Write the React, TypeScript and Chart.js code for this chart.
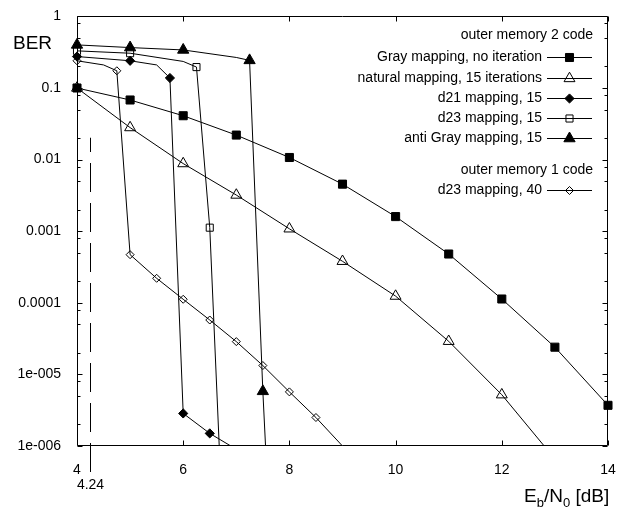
import React, { useEffect, useRef } from 'react';
import { Chart, registerables } from 'chart.js';
import { drawPoint } from 'chart.js/helpers';

Chart.register(...registerables);

const FONT = '"Liberation Sans", Arial, Helvetica, sans-serif';

// ---------- data ----------
const grayX = [4, 5, 6, 7, 8, 9, 10, 11, 12, 13, 14];
const grayY = [0.1, 0.068, 0.041, 0.022, 0.0107, 0.00454, 0.0016, 0.00048, 0.000113, 0.000024, 0.0000037];
const grayMarked = [1, 1, 1, 1, 1, 1, 1, 1, 1, 1, 1];

const naturalX = [4, 5, 6, 7, 8, 9, 10, 11, 12, 13];
const naturalY = [0.1, 0.028, 0.0088, 0.0032, 0.00108, 0.00038, 0.000124, 0.000029, 0.0000052, 0.00000066];
const naturalMarked = [1, 1, 1, 1, 1, 1, 1, 1, 1, 0];

const d21X = [4, 5, 5.5, 5.75, 6, 6.5, 7];
const d21Y = [0.275, 0.24, 0.21, 0.138, 0.00000285, 0.0000015, 0.0000009];
const d21Marked = [1, 1, 0, 1, 1, 1, 0];

const d23X = [4, 5, 6, 6.25, 6.5, 6.75];
const d23Y = [0.33, 0.306, 0.235, 0.196, 0.00112, 0.00000006];
const d23Marked = [1, 1, 0, 1, 1, 0];

const antiGrayX = [4, 5, 6, 7, 7.25, 7.5, 7.75];
const antiGrayY = [0.4, 0.367, 0.34, 0.267, 0.243, 0.0000058, 0.000000001];
const antiGrayMarked = [1, 1, 1, 0, 1, 1, 0];

const mem1X = [4, 4.5, 4.75, 5, 5.5, 6, 6.5, 7, 7.5, 8, 8.5, 9.5];
const mem1Y = [0.24, 0.21, 0.174, 0.00047, 0.00022, 0.000112, 0.0000575, 0.0000287, 0.0000133, 0.0000057, 0.0000025, 0.0000004];
const mem1Marked = [1, 0, 1, 1, 1, 1, 1, 1, 1, 1, 1, 0];

const seriesLabels = [
  'Gray mapping, no iteration',
  'natural mapping, 15 iterations',
  'd21 mapping, 15',
  'd23 mapping, 15',
  'anti Gray mapping, 15',
  'd23 mapping, 40',
];
const groupTitles = ['outer memory 2 code', 'outer memory 1 code'];

const xTickValues = [4, 6, 8, 10, 12, 14];
const yTickValues = [1, 0.1, 0.01, 0.001, 0.0001, 0.00001, 0.000001];
const yTickLabels = ['1', '0.1', '0.01', '0.001', '0.0001', '1e-005', '1e-006'];
const yMinorFactors = [2, 5, 8];

const thresholdX = 4.24;
const thresholdTopY = 0.0202;
const thresholdLabel = '4.24';

const yTitle = 'BER';

// ---------- styles ----------
const markerStyles = [
  { pointStyle: 'rect', radius: 5.7, fill: '#000' },
  { pointStyle: 'triangle', radius: 6.3, fill: 'rgba(0,0,0,0)' },
  { pointStyle: 'rectRot', radius: 4.6, fill: '#000' },
  { pointStyle: 'rect', radius: 5, fill: 'rgba(0,0,0,0)' },
  { pointStyle: 'triangle', radius: 6.5, fill: '#000' },
  { pointStyle: 'rectRot', radius: 4, fill: 'rgba(0,0,0,0)' },
];

const legendRowsY = [57, 78, 98, 118, 138, 190];
const legendTitlesY = [35, 170];

const toPts = (xs: number[], ys: number[]) => xs.map((x, i) => ({ x, y: ys[i] }));

const framePlugin = {
  id: 'frame',
  afterDatasetsDraw(chart: any) {
    const { ctx, chartArea } = chart;
    const xs = chart.scales.x;
    const ys = chart.scales.y;
    const L = Math.round(chartArea.left) + 0.5;
    const R = Math.round(chartArea.right) - 0.5;
    const T = Math.round(chartArea.top) + 0.5;
    const B = Math.round(chartArea.bottom) - 0.5;
    ctx.save();
    ctx.strokeStyle = '#000';
    ctx.lineWidth = 1;
    ctx.beginPath();
    ctx.rect(L, T, R - L, B - T);
    // x ticks (bottom and top)
    xTickValues.forEach((v) => {
      const px = Math.round(xs.getPixelForValue(v)) + 0.5;
      ctx.moveTo(px, B);
      ctx.lineTo(px, B - 5);
      ctx.moveTo(px, T);
      ctx.lineTo(px, T + 5);
    });
    // y ticks (left and right)
    yTickValues.forEach((v) => {
      const py = Math.round(ys.getPixelForValue(v)) + 0.5;
      ctx.moveTo(L, py);
      ctx.lineTo(L + 5, py);
      ctx.moveTo(R, py);
      ctx.lineTo(R - 5, py);
      if (v < 1) {
        yMinorFactors.forEach((f) => {
          const pm = Math.round(ys.getPixelForValue(v * f)) + 0.5;
          ctx.moveTo(L, pm);
          ctx.lineTo(L + 3, pm);
          ctx.moveTo(R, pm);
          ctx.lineTo(R - 3, pm);
        });
      }
    });
    ctx.stroke();

    // threshold dashed line
    const tx = Math.round(xs.getPixelForValue(thresholdX)) + 0.5;
    const ty = ys.getPixelForValue(thresholdTopY);
    const bottomExt = chartArea.bottom + 26;
    ctx.setLineDash([29, 11]);
    ctx.beginPath();
    ctx.moveTo(tx, bottomExt);
    ctx.lineTo(tx, ty);
    ctx.stroke();
    ctx.setLineDash([]);

    ctx.fillStyle = '#000';
    ctx.font = `14px ${FONT}`;
    ctx.textAlign = 'center';
    ctx.textBaseline = 'middle';
    ctx.fillText(thresholdLabel, tx, chartArea.bottom + 39);

    // y title
    ctx.font = `19px ${FONT}`;
    ctx.textAlign = 'left';
    ctx.fillText(yTitle, 13, 44);

    // x title E_b/N_0 [dB]
    const parts: [string, number, number][] = [
      ['E', 19, 0],
      ['b', 13, 5],
      ['/N', 19, 0],
      ['0', 13, 5],
      [' [dB]', 19, 0],
    ];
    let cx = 524;
    const base = 502;
    ctx.textBaseline = 'alphabetic';
    parts.forEach(([t, size, dy]) => {
      ctx.font = `${size}px ${FONT}`;
      ctx.fillText(t, cx, base + dy);
      cx += ctx.measureText(t).width;
    });
    ctx.restore();
  },
};

const legendPlugin = {
  id: 'customLegend',
  afterDraw(chart: any) {
    const ctx = chart.ctx;
    ctx.save();
    ctx.fillStyle = '#000';
    ctx.strokeStyle = '#000';
    ctx.lineWidth = 1;
    ctx.font = `14px ${FONT}`;
    ctx.textBaseline = 'middle';
    ctx.textAlign = 'right';
    groupTitles.forEach((t, i) => ctx.fillText(t, 593, legendTitlesY[i]));
    seriesLabels.forEach((label, i) => {
      const y = legendRowsY[i];
      ctx.fillStyle = '#000';
      ctx.fillText(label, 542, y);
      ctx.beginPath();
      ctx.moveTo(547, Math.round(y) + 0.5);
      ctx.lineTo(592, Math.round(y) + 0.5);
      ctx.stroke();
      const m = markerStyles[i];
      ctx.fillStyle = m.fill;
      drawPoint(ctx, { pointStyle: m.pointStyle, radius: m.radius, rotation: 0, borderWidth: 1 } as any, 569.5, Math.round(y) + 0.5);
    });
    ctx.restore();
  },
};

export default function App() {
  const ref = useRef<HTMLCanvasElement>(null);
  useEffect(() => {
    if (!ref.current) return;
    Chart.defaults.font.family = FONT;
    Chart.defaults.color = '#000';
    const series = [
      [grayX, grayY, grayMarked],
      [naturalX, naturalY, naturalMarked],
      [d21X, d21Y, d21Marked],
      [d23X, d23Y, d23Marked],
      [antiGrayX, antiGrayY, antiGrayMarked],
      [mem1X, mem1Y, mem1Marked],
    ] as [number[], number[], number[]][];
    const datasets = series.map(([xs, ys, mk], i) => {
      const m = markerStyles[i];
      return {
        label: seriesLabels[i],
        data: toPts(xs, ys),
        showLine: true,
        borderColor: '#000',
        borderWidth: 1,
        tension: 0,
        pointStyle: m.pointStyle,
        pointRadius: mk.map((k) => (k ? m.radius : 0)),
        pointHoverRadius: mk.map((k) => (k ? m.radius : 0)),
        pointBackgroundColor: m.fill,
        pointBorderColor: '#000',
        pointBorderWidth: 1,
        clip: { left: 10, right: 10, top: 10, bottom: 0 },
      };
    });
    const chart = new Chart(ref.current, {
      type: 'scatter',
      data: { datasets: datasets as any },
      options: {
        animation: false,
        responsive: false,
        events: [],
        layout: { padding: { top: 13, right: 16, bottom: 0, left: 0 } },
        plugins: { legend: { display: false }, tooltip: { enabled: false } },
        scales: {
          x: {
            type: 'linear',
            min: 4,
            max: 14,
            grid: { display: false },
            border: { display: false },
            afterBuildTicks: (s: any) => {
              s.ticks = xTickValues.map((v) => ({ value: v }));
            },
            afterFit: (s: any) => {
              s.height = 62;
            },
            ticks: {
              padding: 8,
              maxRotation: 0,
              font: { size: 14, family: FONT },
              color: '#000',
              callback: (v: any) => String(v),
            },
          },
          y: {
            type: 'logarithmic',
            min: 0.000001,
            max: 1,
            grid: { display: false },
            border: { display: false },
            afterBuildTicks: (s: any) => {
              s.ticks = yTickValues.map((v) => ({ value: v }));
            },
            afterFit: (s: any) => {
              s.width = 77;
            },
            ticks: {
              padding: 8,
              font: { size: 14, family: FONT },
              color: '#000',
              callback: (v: any) => {
                const idx = yTickValues.findIndex((t) => Math.abs(Math.log10(t) - Math.log10(v)) < 1e-6);
                return idx >= 0 ? yTickLabels[idx] : '';
              },
            },
          },
        },
      },
      plugins: [framePlugin, legendPlugin],
    });
    return () => chart.destroy();
  }, []);
  return (
    <div style={{ position: 'absolute', left: 0, top: 0, width: 624, height: 508, background: '#fff' }}>
      <canvas ref={ref} width={624} height={508} style={{ display: 'block' }} />
    </div>
  );
}
